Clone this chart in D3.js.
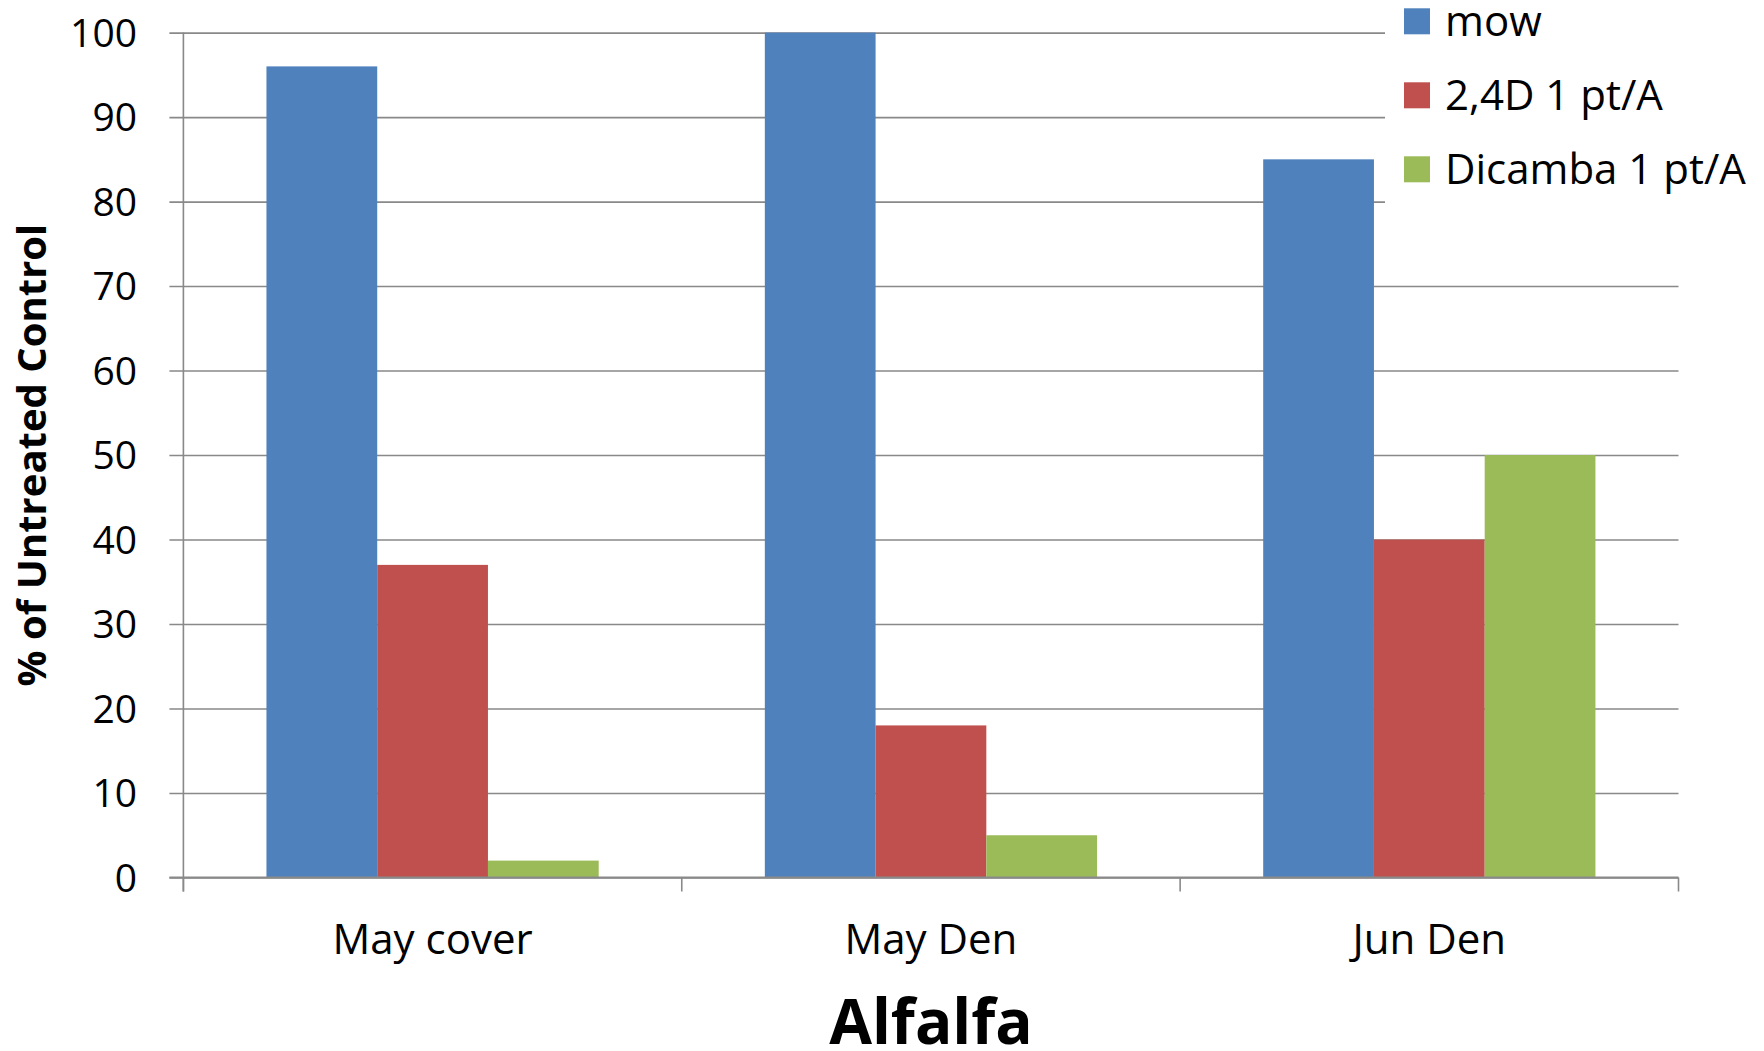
<!DOCTYPE html>
<html>
<head>
<meta charset="utf-8">
<script src="https://cdn.jsdelivr.net/npm/d3@7"></script>
<style>
  html, body { margin: 0; padding: 0; background: #fff; }
  svg { display: block; }
  text { font-family: "Open Sans", "Noto Sans", sans-serif; fill: #000; }
</style>
</head>
<body>
<svg id="chart" width="1764" height="1051"></svg>
<script>
// Categories, series and values
const categories = ["May cover", "May Den", "Jun Den"];
const seriesNames = ["mow", "2,4D 1 pt/A", "Dicamba 1 pt/A"];
const mowValues = [96, 100, 85];
const d24Values = [37, 18, 40];
const dicambaValues = [2, 5, 50];
const seriesColors = ["#4F81BD", "#C0504D", "#9BBB59"];
const yTicks = [0, 10, 20, 30, 40, 50, 60, 70, 80, 90, 100];
const yTitle = "% of Untreated Control";
const xTitle = "Alfalfa";

const seriesValues = [mowValues, d24Values, dicambaValues];
const rows = categories.map((c, i) => ({
  category: c,
  values: seriesNames.map((s, j) => ({ series: s, idx: j, value: seriesValues[j][i] }))
}));

const svg = d3.select("#chart");
const plot = { left: 183.4, right: 1678.5, top: 32.6, bottom: 877.5 };
const gridColor = "#898989";

const x0 = d3.scaleBand().domain(categories).range([plot.left, plot.right]).padding(0);
const W = x0.bandwidth();
// Gap between clusters is 150% of one bar width
const x1 = d3.scaleBand().domain(seriesNames).range([W / 6, W - W / 6]).padding(0);
const y = d3.scaleLinear().domain([0, 100]).range([plot.bottom, plot.top]);

// Horizontal gridlines with outside tick marks
const yAxis = d3.axisLeft(y).tickValues(yTicks).tickSize(-(plot.right - plot.left)).tickSizeOuter(0).tickFormat("");
const gy = svg.append("g").attr("transform", `translate(${plot.left},0)`).call(yAxis);
gy.select(".domain").remove();
gy.selectAll(".tick line")
  .attr("x1", -14)
  .attr("stroke", gridColor).attr("stroke-width", 1.6);

// Y tick labels
svg.append("g").selectAll("text").data(yTicks).join("text")
  .attr("x", 137).attr("y", d => y(d))
  .attr("dy", "0.36em")
  .attr("text-anchor", "end")
  .style("font-size", "39px")
  .text(d => d);

// Bars
const groups = svg.append("g").selectAll("g").data(rows).join("g")
  .attr("transform", d => `translate(${x0(d.category)},0)`);
groups.selectAll("rect").data(d => d.values).join("rect")
  .attr("x", d => x1(d.series))
  .attr("y", d => y(d.value))
  .attr("width", x1.bandwidth())
  .attr("height", d => y(0) - y(d.value))
  .attr("fill", d => seriesColors[d.idx]);

// Vertical axis line, extending down to the category tick length
svg.append("line")
  .attr("x1", plot.left).attr("x2", plot.left)
  .attr("y1", plot.top).attr("y2", plot.bottom + 14)
  .attr("stroke", gridColor).attr("stroke-width", 1.6);

// Category axis: baseline and boundary ticks
svg.append("line")
  .attr("x1", plot.left - 14).attr("x2", plot.right)
  .attr("y1", y(0)).attr("y2", y(0))
  .attr("stroke", gridColor).attr("stroke-width", 1.8);
const boundaries = categories.map(c => x0(c)).concat([plot.right]);
svg.append("g").selectAll("line").data(boundaries).join("line")
  .attr("x1", d => d).attr("x2", d => d)
  .attr("y1", y(0)).attr("y2", y(0) + 14)
  .attr("stroke", gridColor).attr("stroke-width", 1.6);

// Category labels
svg.append("g").selectAll("text").data(categories).join("text")
  .attr("x", d => x0(d) + W / 2)
  .attr("y", 954)
  .attr("text-anchor", "middle")
  .style("font-size", "42px")
  .text(d => d);

// Axis titles
svg.append("text")
  .attr("x", (plot.left + plot.right) / 2)
  .attr("y", 1044)
  .attr("text-anchor", "middle")
  .style("font-size", "62px").style("font-weight", "bold")
  .text(xTitle);

svg.append("text")
  .attr("transform", `translate(46,${(plot.top + plot.bottom) / 2}) rotate(-90)`)
  .attr("text-anchor", "middle")
  .style("font-size", "40px").style("font-weight", "bold")
  .text(yTitle);

// Legend, on an opaque box that sits over the top-right gridlines
svg.append("rect")
  .attr("x", 1385).attr("y", 0)
  .attr("width", 1764 - 1385).attr("height", 232)
  .attr("fill", "#fff");
const legend = svg.append("g").selectAll("g").data(seriesNames).join("g")
  .attr("transform", (d, i) => `translate(1404,${8.3 + i * 74})`);
legend.append("rect")
  .attr("width", 26).attr("height", 26)
  .attr("fill", (d, i) => seriesColors[i]);
legend.append("text")
  .attr("x", 41).attr("y", 27.5)
  .style("font-size", "42px")
  .text(d => d);
</script>
</body>
</html>
